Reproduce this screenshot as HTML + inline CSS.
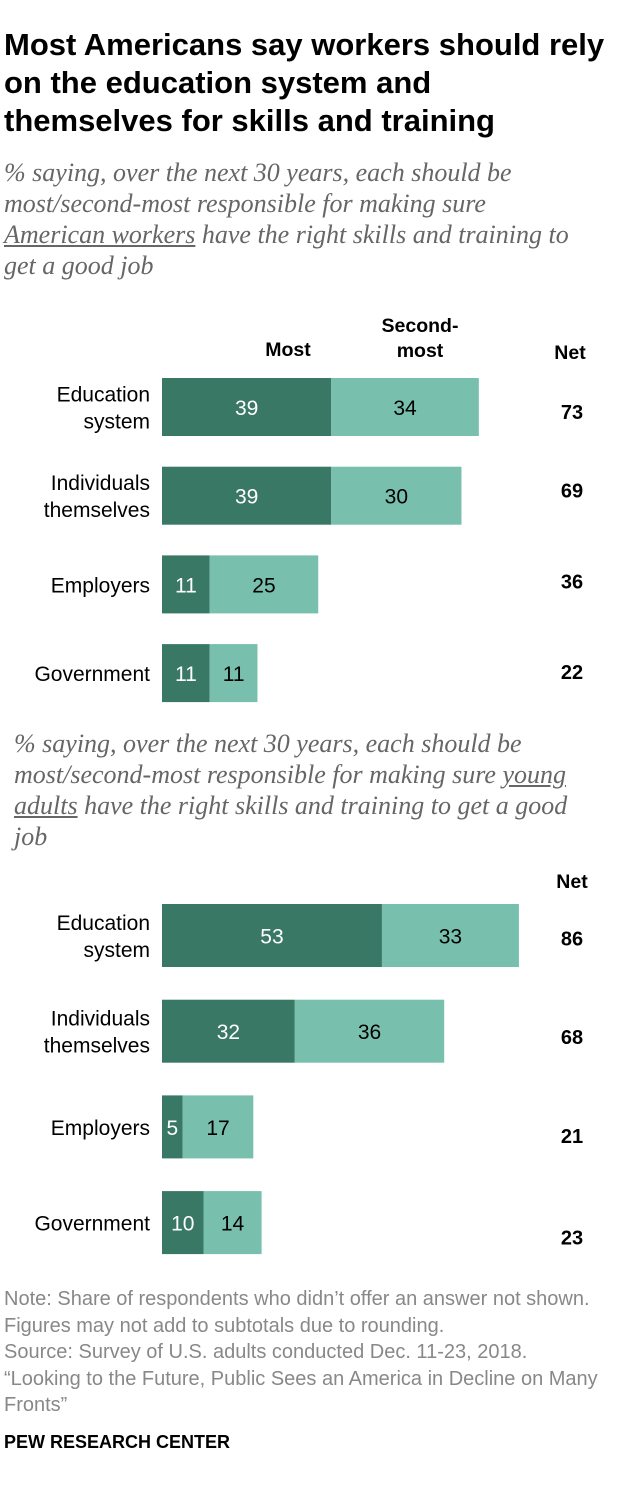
<!DOCTYPE html>
<html><head><meta charset="utf-8"><style>
body{margin:0;width:626px;height:1490px;background:#fff;font-family:"Liberation Sans",sans-serif;position:relative;overflow:hidden}
.a{position:absolute}
h1{position:absolute;left:4px;top:26px;margin:0;font-size:31px;line-height:38px;font-weight:bold;color:#000;white-space:nowrap;letter-spacing:0}
.sub{position:absolute;font-family:"Liberation Serif",serif;font-style:italic;color:#666;font-size:26px;line-height:31px;white-space:nowrap}
.hd{position:absolute;font-weight:bold;font-size:19.5px;color:#000;text-align:center;line-height:25px}
.note{position:absolute;left:4px;font-size:20px;color:#888;line-height:26.5px;white-space:nowrap}
</style></head><body>
<h1>Most Americans say workers should rely<br>on the education system and<br>themselves for skills and training</h1>
<div class="sub" style="left:4px;top:157px">% saying, over the next 30 years, each should be<br>most/second-most responsible for making sure<br><u>American workers</u> have the right skills and training to<br>get a good job</div>
<div class="hd" style="left:248px;top:338px;width:80px">Most</div>
<div class="hd" style="left:370px;top:314px;width:100px">Second-<br>most</div>
<div class="hd" style="left:549px;top:341px;width:42px">Net</div>
<div class="sub" style="left:14px;top:728px">% saying, over the next 30 years, each should be<br>most/second-most responsible for making sure <u>young</u><br><u>adults</u> have the right skills and training to get a good<br>job</div>
<div class="hd" style="left:551px;top:870px;width:42px">Net</div>
<svg id="c" class="a" style="left:0;top:0" width="626" height="1490"></svg>
<div class="note" style="top:1286px">Note: Share of respondents who didn’t offer an answer not shown.<br>Figures may not add to subtotals due to rounding.<br>Source: Survey of U.S. adults conducted Dec. 11-23, 2018.<br>“Looking to the Future, Public Sees an America in Decline on Many<br>Fronts”</div>
<div class="a" style="left:4px;top:1432px;font-size:18px;font-weight:bold;color:#000">PEW RESEARCH CENTER</div>
<script>
const categories1=["Education system","Individuals themselves","Employers","Government"];
const most1=[39,39,11,11];
const second1=[34,30,25,11];
const net1=[73,69,36,22];
const categories2=["Education system","Individuals themselves","Employers","Government"];
const most2=[53,32,5,10];
const second2=[33,36,17,14];
const net2=[86,68,21,23];
const svg=document.getElementById('c');const NS='http://www.w3.org/2000/svg';
function el(t,a){const e=document.createElementNS(NS,t);for(const k in a)e.setAttribute(k,a[k]);svg.appendChild(e);return e;}
function draw(cats,m,s,n,x0,scale,y0,step,h,netOff,id){
 const x=v=>x0+v*scale;
 cats.forEach((c,i)=>{
  const y=y0+i*step;
  const r1=el('rect',{x:x(0),y:y,width:x(m[i])-x(0),height:h,fill:'#3a7866'});
  
  
  const r2=el('rect',{x:x(m[i]),y:y,width:x(m[i]+s[i])-x(m[i]),height:h,fill:'#78bfae'});
  
  
  const t1=el('text',{x:(x(0)+x(m[i]))/2,y:y+h/2+8,'text-anchor':'middle','font-size':21,fill:'#fff','font-family':'Liberation Sans'});t1.textContent=m[i];
  
  
  const t2=el('text',{x:(x(m[i])+x(m[i]+s[i]))/2,y:y+h/2+8,'text-anchor':'middle','font-size':21,fill:'#000','font-family':'Liberation Sans'});t2.textContent=s[i];
  
  
  const w=c.split(' ');const lines=(c==='Employers'||c==='Government')?[c]:w;
  lines.forEach((l,j)=>{const t=el('text',{x:x0-12,y:y+h/2+8+(j-(lines.length-1)/2)*27,'text-anchor':'end','font-size':21,fill:'#000','font-family':'Liberation Sans'});t.textContent=l;
   
   });
  const tn=el('text',{x:572,y:y+h/2+8+(netOff[i]||0),'text-anchor':'middle','font-size':20,'font-weight':'bold',fill:'#000','font-family':'Liberation Sans'});tn.textContent=n[i];
  
  
 });
}
draw(categories1,most1,second1,net1,162,4.34,378,88.7,58,[4,-6,-4,-2],'a');
draw(categories2,most2,second2,net2,162,4.15,904,95.7,63,[2,5,8,14],'b');
</script>
</body></html>
